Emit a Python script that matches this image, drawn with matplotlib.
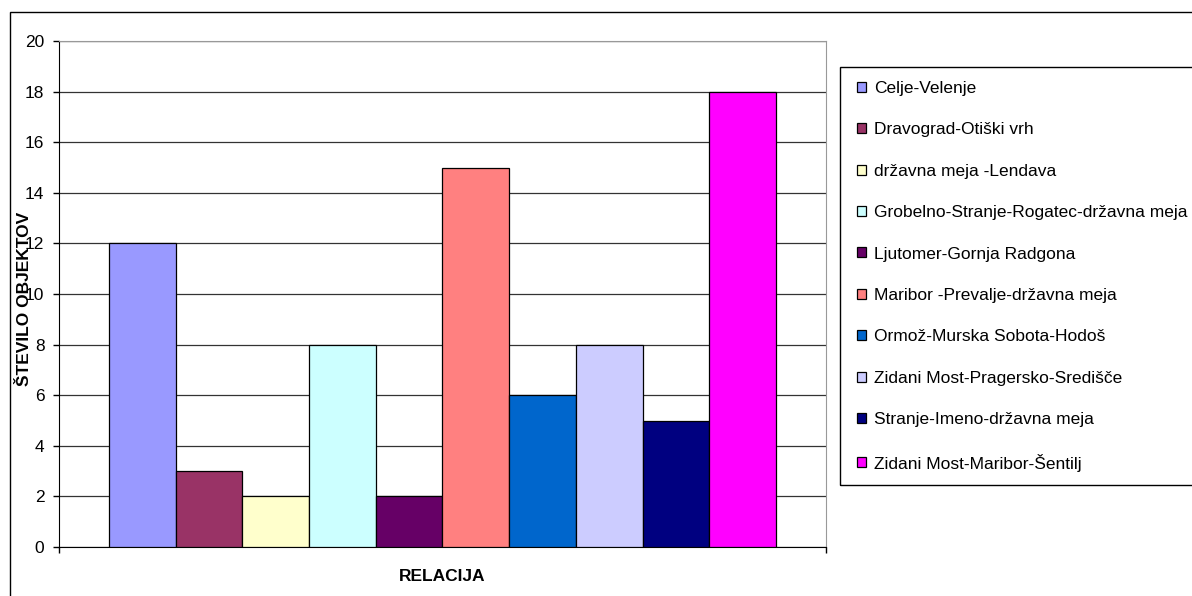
import matplotlib
matplotlib.use("Agg")
from matplotlib import pyplot as plt
from matplotlib.patches import Rectangle

plt.rcParams['font.family'] = ['Liberation Sans', 'DejaVu Sans']

relacije = ["Celje-Velenje", "Dravograd-Otiški vrh", "državna meja -Lendava",
            "Grobelno-Stranje-Rogatec-državna meja", "Ljutomer-Gornja Radgona",
            "Maribor -Prevalje-državna meja", "Ormož-Murska Sobota-Hodoš",
            "Zidani Most-Pragersko-Središče", "Stranje-Imeno-državna meja",
            "Zidani Most-Maribor-Šentilj"]
objekti = [12, 3, 2, 8, 2, 15, 6, 8, 5, 18]
barve = ["#9999FF", "#993366", "#FFFFCC", "#CCFFFF", "#660066",
         "#FF8080", "#0066CC", "#CCCCFF", "#000080", "#FF00FF"]
yticks = list(range(0, 21, 2))

W, H = 1192, 596
fig = plt.figure(figsize=(W / 100, H / 100), dpi=100)

# outer chart frame (right and bottom edges are cut off in the original)
fig.patches.append(Rectangle((10 / W, -0.1), 1.2, 1 - 12 / H + 0.1,
                             transform=fig.transFigure, fill=False,
                             edgecolor="black", linewidth=1))

ax = fig.add_axes([59 / W, 1 - 547 / H, (826 - 59) / W, (547 - 41) / H])

for i, (ime, v, c) in enumerate(zip(relacije, objekti, barve)):
    ax.bar(i, v, width=1.0, color=c, edgecolor="black", linewidth=0.9,
           label=ime, zorder=3)

ax.set_xlim(-1.25, 10.25)
ax.set_ylim(0, 20)
ax.set_yticks(yticks)
ax.set_xticks([-1.25, 10.25])
ax.set_xticklabels([])
ax.tick_params(axis="y", direction="out", length=4.5, width=1, labelsize=12.5, pad=6)
ax.tick_params(axis="x", direction="out", length=4.5, width=1)
ax.grid(axis="y", color="#333333", linewidth=0.9, zorder=0)

for s in ["top", "right"]:
    ax.spines[s].set_color("#999999")
for s in ["left", "bottom"]:
    ax.spines[s].set_color("black")

# like the original, the axis title sits over the tick labels
ax.set_ylabel("ŠTEVILO OBJEKTOV", fontsize=12.5, fontweight="bold")
ax.yaxis.set_label_coords(-0.035, 0.49)
ax.set_xlabel("RELACIJA", fontsize=12.5, fontweight="bold", labelpad=8)

# legend box
fig.patches.append(Rectangle((840 / W, 1 - 485 / H), 1.0, (485 - 67) / H,
                             transform=fig.transFigure, fill=False,
                             edgecolor="black", linewidth=1))
leg = fig.legend(loc="upper left", bbox_to_anchor=(857 / W, 1 - 81 / H),
                 frameon=False, fontsize=12.5, labelspacing=1.52,
                 handlelength=0.5, handleheight=0.5, handletextpad=0.5,
                 borderpad=0, borderaxespad=0)

plt.savefig("out.png", dpi=100)
plt.close()
